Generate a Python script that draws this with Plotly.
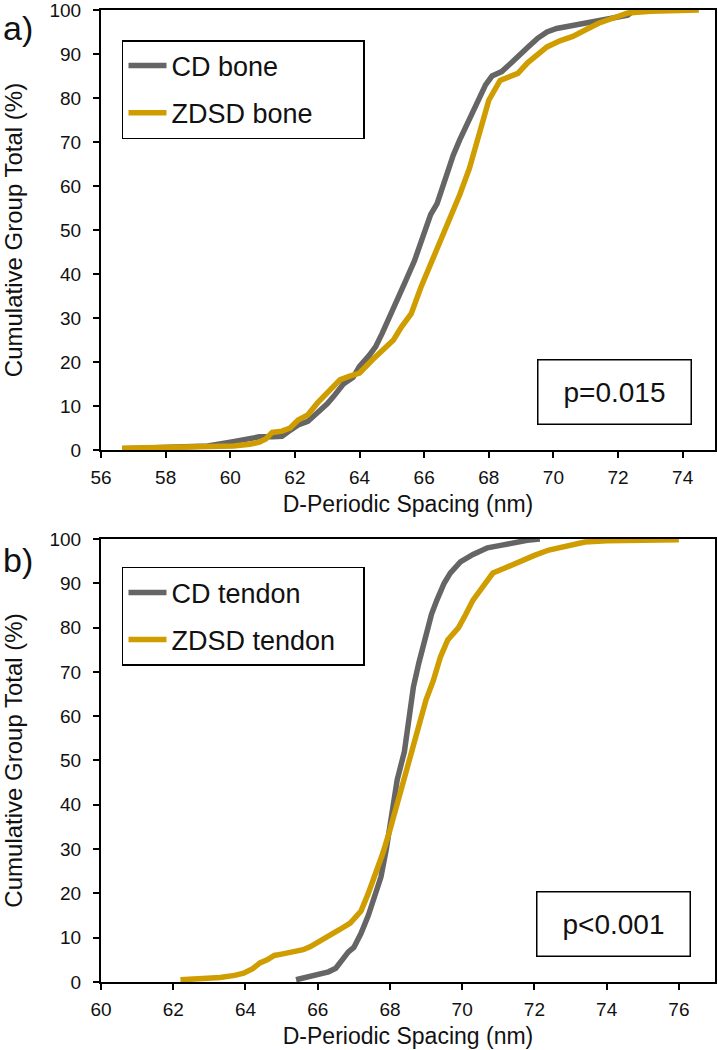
import plotly.graph_objects as go

# ---------------- data ----------------
cd_bone_x = [56.7, 57.5, 58.5, 59.3, 60.0, 60.5, 60.9, 61.3, 61.6, 61.8, 62.1, 62.4, 62.7, 63.0, 63.2,
             63.5, 63.8, 64.0, 64.3, 64.5, 64.7, 64.9, 65.2, 65.4, 65.7, 65.9, 66.2, 66.4, 66.7, 66.9,
             67.1, 67.4, 67.7, 67.9, 68.1, 68.4, 68.7, 68.9, 69.2, 69.5, 69.8, 70.1, 70.7, 71.3, 71.8,
             72.3, 72.5]
cd_bone_y = [0.3, 0.4, 0.6, 0.9, 1.8, 2.4, 3.0, 3.0, 3.1, 4.2, 5.7, 6.5, 8.4, 10.5, 12.2,
             15.0, 16.5, 19.0, 21.5, 23.5, 26.5, 30.0, 34.5, 38.0, 43.0, 47.0, 53.5, 56.0, 63.0, 67.0,
             70.5, 75.0, 80.0, 83.0, 85.0, 86.0, 88.0, 89.5, 91.5, 93.5, 95.0, 95.8, 96.6, 97.2, 98.0,
             98.8, 100.0]

zdsd_bone_x = [56.65, 57.5, 58.4, 59.3, 60.1, 60.6, 60.9, 61.1, 61.3, 61.6, 61.85, 62.1, 62.4, 62.7, 63.0,
               63.4, 63.7, 64.0, 64.4, 64.7, 65.05, 65.3, 65.6, 65.9, 66.25, 66.5, 66.8, 67.1, 67.4, 67.6,
               67.8, 68.0, 68.35, 68.6, 68.9, 69.2, 69.5, 69.8, 70.2, 70.6, 71.0, 71.4, 71.9, 72.3, 73.0,
               73.8, 74.5]
zdsd_bone_y = [0.4, 0.5, 0.7, 0.8, 0.9, 1.3, 1.8, 2.5, 4.0, 4.3, 5.0, 6.8, 8.0, 10.7, 13.0,
               16.0, 16.8, 17.5, 20.5, 22.5, 25.0, 28.0, 31.0, 37.0, 43.0, 48.0, 53.0, 58.0, 64.0, 69.0,
               73.4, 79.5, 84.0, 84.8, 85.6, 88.0, 90.0, 91.6, 93.0, 94.0, 95.5, 97.0, 98.3, 99.3, 99.7,
               99.9, 100.0]

cd_tendon_x = [65.4, 65.7, 66.0, 66.3, 66.5, 66.7, 66.85, 67.0, 67.1, 67.2, 67.4, 67.55, 67.75, 67.9, 68.1,
               68.2, 68.4, 68.55, 68.65, 68.8, 69.0, 69.15, 69.3, 69.5, 69.67, 69.95, 70.3, 70.7, 71.1, 71.5,
               71.8, 72.15]
cd_tendon_y = [0.5, 1.0, 1.6, 2.3, 3.1, 5.5, 6.8, 7.8, 9.2, 11.0, 15.0, 19.0, 23.7, 30.0, 39.5,
               45.6, 52.0, 60.0, 66.6, 72.0, 78.8, 83.0, 86.2, 90.0, 92.3, 94.8, 96.5, 98.0, 98.6, 99.3,
               99.7, 100.0]

zdsd_tendon_x = [62.2, 62.8, 63.3, 63.7, 63.95, 64.2, 64.4, 64.6, 64.8, 65.0, 65.3, 65.6, 65.8, 66.1, 66.35,
                 66.6, 66.9, 67.05, 67.2, 67.4, 67.65, 67.8, 68.0, 68.2, 68.37, 68.6, 68.8, 69.0, 69.2, 69.4,
                 69.6, 69.9, 70.1, 70.3, 70.6, 70.85, 71.2, 71.5, 72.0, 72.4, 72.9, 73.4, 74.0, 75.0, 76.0]
zdsd_tendon_y = [0.5, 0.7, 1.0, 1.5, 2.0, 3.0, 4.3, 5.0, 6.0, 6.3, 6.8, 7.3, 8.0, 9.3, 10.6,
                 11.8, 13.3, 14.5, 16.0, 20.0, 25.3, 29.0, 34.3, 40.0, 45.6, 52.0, 57.0, 63.7, 68.0, 73.4,
                 77.2, 80.0, 83.0, 86.2, 89.5, 92.3, 93.5, 94.6, 96.3, 97.5, 98.5, 99.3, 99.6, 99.7, 99.8]

top_xticks = [56, 58, 60, 62, 64, 66, 68, 70, 72, 74]
bottom_xticks = [60, 62, 64, 66, 68, 70, 72, 74, 76]
y_ticks = [0, 10, 20, 30, 40, 50, 60, 70, 80, 90, 100]

x_title = "D-Periodic Spacing (nm)"
y_title = "Cumulative Group Total (%)"
p_top = "p=0.015"
p_bottom = "p<0.001"

# ---------------- styling ----------------
GRAY = "#656565"
GOLD = "#cf9d00"
FONT = "Liberation Sans, Arial, sans-serif"
TXT = "#111111"
NB = "\u00a0"

fig = go.Figure()
fig.add_trace(go.Scatter(x=cd_bone_x, y=cd_bone_y, mode="lines", name="CD bone" + NB * 10,
                         line=dict(color=GRAY, width=5.5), legend="legend", legendgroup="a1",
                         xaxis="x", yaxis="y"))
fig.add_trace(go.Scatter(x=zdsd_bone_x, y=zdsd_bone_y, mode="lines", name="ZDSD bone" + NB * 6,
                         line=dict(color=GOLD, width=5.5), legend="legend", legendgroup="a2",
                         xaxis="x", yaxis="y"))
fig.add_trace(go.Scatter(x=cd_tendon_x, y=cd_tendon_y, mode="lines", name="CD tendon" + NB * 6,
                         line=dict(color=GRAY, width=5.5), legend="legend2", legendgroup="b1",
                         xaxis="x2", yaxis="y2"))
fig.add_trace(go.Scatter(x=zdsd_tendon_x, y=zdsd_tendon_y, mode="lines", name="ZDSD tendon" + NB * 3,
                         line=dict(color=GOLD, width=5.5), legend="legend2", legendgroup="b2",
                         xaxis="x2", yaxis="y2"))
# empty traces that only register the label-only overlay axes
fig.add_trace(go.Scatter(x=[], y=[], mode="lines", showlegend=False, hoverinfo="skip",
                         xaxis="x", yaxis="y3"))
fig.add_trace(go.Scatter(x=[], y=[], mode="lines", showlegend=False, hoverinfo="skip",
                         xaxis="x2", yaxis="y4"))

axis_common = dict(showgrid=False, zeroline=False, showline=True, linecolor="black", linewidth=2,
                   mirror=True, ticks="outside", ticklen=6, tickwidth=1.5, tickcolor="black",
                   automargin=False, ticklabeloverflow="allow",
                   tickfont=dict(family=FONT, size=19, color=TXT))

# label-only overlay y axes (longer invisible ticks push the labels out from the axis)
label_axis = dict(showgrid=False, zeroline=False, showline=False, ticks="outside", ticklen=15,
                  tickcolor="rgba(0,0,0,0)", automargin=False, ticklabeloverflow="allow",
                  range=[0, 100], tickvals=y_ticks, side="left",
                  tickfont=dict(family=FONT, size=19, color=TXT))

xt = dict(text=x_title, font=dict(family=FONT, size=23, color=TXT), standoff=9)
yt = dict(text=y_title, font=dict(family=FONT, size=24, color=TXT), standoff=28)

fig.update_layout(
    width=718, height=1050,
    margin=dict(l=101, r=3, t=10, b=68),
    paper_bgcolor="white", plot_bgcolor="white",
    font=dict(family=FONT, color=TXT),
    xaxis=dict(domain=[0, 1], range=[56, 75], tickvals=top_xticks, anchor="y",
               title=xt, ticklabelstandoff=3, **axis_common),
    yaxis=dict(domain=[0.5473, 1.0], range=[0, 100], tickvals=y_ticks, anchor="x",
               showticklabels=False, **axis_common),
    yaxis3=dict(overlaying="y", anchor="x", title=yt, **label_axis),
    xaxis2=dict(domain=[0, 1], range=[60, 77], tickvals=bottom_xticks, anchor="y2",
                title=xt, ticklabelstandoff=3, **axis_common),
    yaxis2=dict(domain=[0.0, 0.4558], range=[0, 100], tickvals=y_ticks, anchor="x2",
                showticklabels=False, **axis_common),
    yaxis4=dict(overlaying="y2", anchor="x2", title=yt, **label_axis),
    legend=dict(x=0.0342, y=0.9691, xanchor="left", yanchor="top", bgcolor="white",
                bordercolor="black", borderwidth=1.5, font=dict(family=FONT, size=27, color=TXT),
                tracegroupgap=9, itemwidth=38),
    legend2=dict(x=0.0342, y=0.4270, xanchor="left", yanchor="top", bgcolor="white",
                 bordercolor="black", borderwidth=1.5, font=dict(family=FONT, size=27, color=TXT),
                 tracegroupgap=9, itemwidth=38),
    showlegend=True,
)

# p-value boxes
for txt, xr, yr, xc in [(p_top, "x", "y", 71.9), (p_bottom, "x2", "y2", 74.2)]:
    fig.add_annotation(x=xc, y=13.2, xref=xr, yref=yr, text=txt, showarrow=False,
                       font=dict(family=FONT, size=28, color=TXT),
                       bordercolor="black", borderwidth=1.5, borderpad=0, bgcolor="white",
                       width=152, height=63, align="center", valign="middle")

# panel labels
fig.add_annotation(x=-0.163, y=0.981, xref="paper", yref="paper", text="a)", showarrow=False,
                   xanchor="left", yanchor="middle", font=dict(family=FONT, size=34, color=TXT))
fig.add_annotation(x=-0.163, y=0.434, xref="paper", yref="paper", text="b)", showarrow=False,
                   xanchor="left", yanchor="middle", font=dict(family=FONT, size=34, color=TXT))

fig.write_html("out.html", config={"displayModeBar": False},
               post_script="document.body.style.margin='0px';")
